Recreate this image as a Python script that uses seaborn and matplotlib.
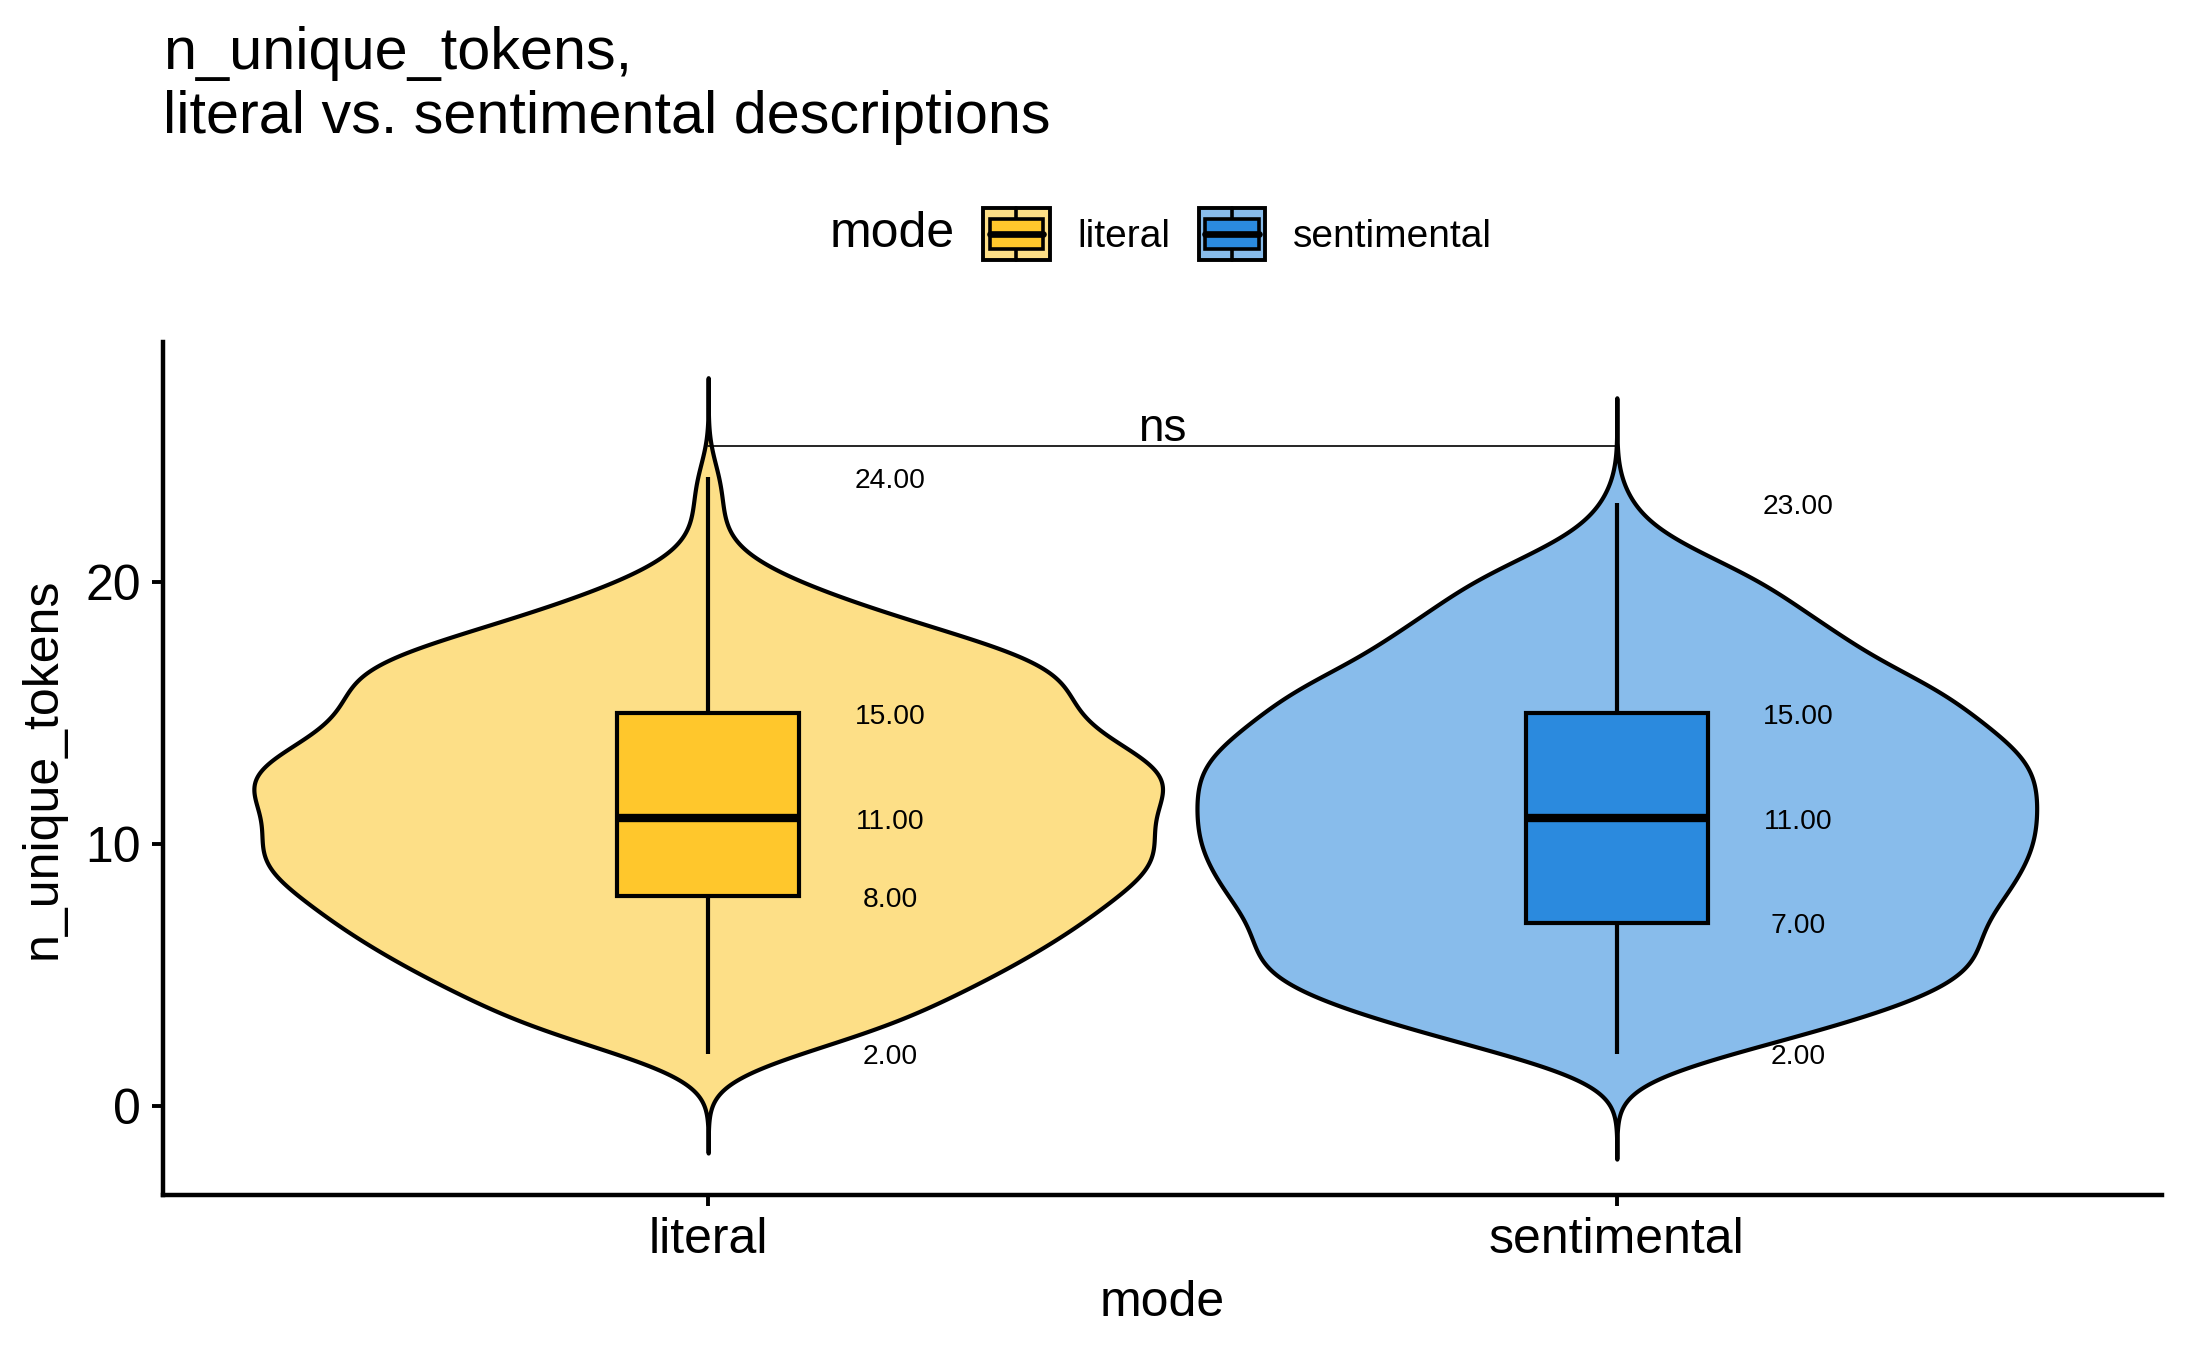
import numpy as np
import pandas as pd
import matplotlib
matplotlib.use("Agg")
import matplotlib.pyplot as plt
import seaborn as sns
from matplotlib.patches import Rectangle
from matplotlib.lines import Line2D
from matplotlib.legend_handler import HandlerBase

# ---------------- data ----------------
modes = ["literal", "sentimental"]
literal_values = list(range(2, 25))
literal_counts = [6, 13, 16, 20, 23, 26, 28, 31, 31, 30, 32, 32, 27, 25, 25, 24, 17, 11, 6, 2, 1, 1, 1]
sentimental_values = list(range(2, 24))
sentimental_counts = [8, 15, 21, 25, 25, 25, 27, 28, 29, 29, 29, 29, 27, 24, 23, 17, 16, 12, 11, 6, 2, 1]
light_colors = ["#FDDF87", "#88BCEB"]
dark_colors = ["#FFC72C", "#2B8ADE"]
y_ticks = [0, 10, 20]
sig_label = "ns"
sig_y = 25.2

df = pd.DataFrame({
    "mode": np.repeat(modes, [sum(literal_counts), sum(sentimental_counts)]),
    "n_unique_tokens": np.concatenate([
        np.repeat(literal_values, literal_counts),
        np.repeat(sentimental_values, sentimental_counts),
    ]),
})

sns.set_theme(style="ticks")
plt.rcParams["font.family"] = ["Liberation Sans", "DejaVu Sans"]
plt.rcParams["text.color"] = "black"
plt.rcParams["axes.labelcolor"] = "black"

fig = plt.figure(figsize=(2187 / 200, 1350 / 200), dpi=200)
ax = fig.add_axes([163 / 2187, 1 - 1195 / 1350, (2162 - 163) / 2187, (1195 - 342) / 1350])

sns.violinplot(data=df, x="mode", y="n_unique_tokens", hue="mode", order=modes, hue_order=modes,
               palette=light_colors, saturation=1, density_norm="area", common_norm=True,
               width=1.0, cut=4.1, bw_method=0.2, inner=None, linewidth=1.5, linecolor="black",
               gridsize=500, legend=False, ax=ax)
sns.boxplot(data=df, x="mode", y="n_unique_tokens", hue="mode", order=modes, hue_order=modes,
            palette=dark_colors, saturation=1, width=0.2, whis=(0, 100), showfliers=False,
            showcaps=False, linewidth=1.5, linecolor="black", legend=False, ax=ax,
            medianprops=dict(linewidth=3.0, color="black"))

# percentile labels
for i, m in enumerate(modes):
    vals = df.loc[df["mode"] == m, "n_unique_tokens"].to_numpy()
    for q in np.percentile(vals, [0, 25, 50, 75, 100]):
        ax.text(i + 0.2, q - 0.15, f"{q:.2f}", ha="center", va="center", fontsize=10.2, color="black")

# significance bracket
ax.plot([0, 1], [sig_y, sig_y], color="black", lw=0.6)
ax.text(0.5, sig_y + 0.17, sig_label, ha="center", va="baseline", fontsize=16.5)

ax.set_xlim(-0.6, 1.6)
ax.set_ylim(-3.4, 29.16)
ax.set_yticks(y_ticks)
ax.set_xlabel("mode", fontsize=18, labelpad=6)
ax.set_ylabel("n_unique_tokens", fontsize=18, labelpad=7)
ax.tick_params(axis="both", labelsize=18, length=4, width=1.4, color="black", pad=4, labelcolor="black")
for s in ["top", "right"]:
    ax.spines[s].set_visible(False)
for s in ["left", "bottom"]:
    ax.spines[s].set_linewidth(1.6)
    ax.spines[s].set_color("black")

fig.text(163 / 2187, 1 - 26 / 1350, "n_unique_tokens,\nliteral vs. sentimental descriptions",
         ha="left", va="top", fontsize=21.4, linespacing=1.2)


class BoxKey:
    def __init__(self, light, dark):
        self.light = light
        self.dark = dark


class BoxKeyHandler(HandlerBase):
    def create_artists(self, legend, orig_handle, xdescent, ydescent, width, height, fontsize, trans):
        x0, y0 = -xdescent, -ydescent
        outer = Rectangle((x0, y0), width, height, facecolor=orig_handle.light,
                          edgecolor="black", lw=1.4, transform=trans)
        bx0, bw = x0 + 0.1 * width, 0.8 * width
        by0, bh = y0 + 0.22 * height, 0.56 * height
        box = Rectangle((bx0, by0), bw, bh, facecolor=orig_handle.dark,
                        edgecolor="black", lw=1.3, transform=trans)
        cx = x0 + width / 2
        w1 = Line2D([cx, cx], [y0, by0], color="black", lw=1.3, transform=trans)
        w2 = Line2D([cx, cx], [by0 + bh, y0 + height], color="black", lw=1.3, transform=trans)
        med = Line2D([bx0, bx0 + bw], [y0 + height / 2] * 2, color="black", lw=2.4, transform=trans)
        return [outer, w1, w2, box, med]


handles = [BoxKey(l, d) for l, d in zip(light_colors, dark_colors)]
fig.text(955 / 2187, 0.8267, "mode", ha="right", va="center", fontsize=18)
fig.legend(handles=handles, labels=modes, handler_map={BoxKey: BoxKeyHandler()},
           loc="center left", bbox_to_anchor=(983 / 2187, 0.8267), bbox_transform=fig.transFigure,
           ncol=2, fontsize=14, handlelength=1.714, handleheight=1.714, handletextpad=0.72,
           columnspacing=0.72, borderpad=0, borderaxespad=0, frameon=False)

fig.savefig("out.png", dpi=200)
